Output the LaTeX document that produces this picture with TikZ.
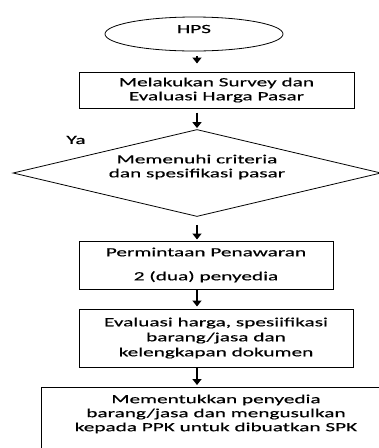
\documentclass[tikz,border=0pt]{standalone}
\usepackage{fontspec}
\setmainfont{Carlito}[FakeStretch=1.7, FakeBold=0.4]
\usetikzlibrary{shapes.geometric,arrows.meta}

\begin{document}
\begin{tikzpicture}[x=1pt, y=-1pt,
    font=\fontsize{12.5}{14}\selectfont,
    box/.style={draw, line width=1pt, align=center, inner sep=0pt},
    decision/.style={draw, diamond, aspect=4.2, line width=0.8pt, inner sep=0pt},
    flow/.style={-{Triangle[width=9pt,length=6pt]}, line width=1.6pt}]
    \useasboundingbox (0,0) rectangle (379,448);
    \clip (0,0) rectangle (379,448);

    % Start
    \node[draw, ellipse, line width=0.8pt, minimum width=178pt, minimum height=34pt,
          inner sep=0pt, text depth=10pt] (hps) at (194,34) {HPS};

    % Survey
    \node[box, minimum width=275pt, minimum height=36pt] (survey) at (216.5,90)
        {Melakukan Survey dan\\Evaluasi Harga Pasar};

    % Decision
    \node[decision, minimum width=368pt, minimum height=87pt,
          label={[align=center, yshift=6pt]center:Memenuhi criteria\\dan spesifikasi pasar}]
          (crit) at (197,173) {};
    \node (ya) at (76,140) {Ya};

    % Offers
    \node[box, minimum width=254pt, minimum height=48pt] (penawaran) at (206,265)
        {Permintaan Penawaran\\[10pt]2 (dua) penyedia};

    \node[box, minimum width=274pt, minimum height=58pt] (evaluasi) at (216,338)
        {Evaluasi harga, spesiifikasi\\[1pt]barang/jasa dan\\[1pt]kelengkapan dokumen};

    % Result
    \node[box, anchor=north, minimum width=350pt, minimum height=85pt,
          label={[align=center, anchor=north, yshift=-4pt]north:Mementukkan penyedia\\barang/jasa dan mengusulkan\\kepada PPK untuk dibuatkan SPK}]
          (usulan) at (216,387) {};

    % Arrows
    \coordinate (spine) at (197,0);
    \draw[flow, shorten <=5pt, shorten >=8pt] (spine |- hps.south) -- (spine |- survey.north);
    \draw[flow, shorten <=4pt, shorten >=1pt] (spine |- survey.south) -- (spine |- crit.north);
    \draw[flow, shorten <=8pt, shorten >=1pt] (spine |- crit.south) -- (spine |- penawaran.north);
    \draw[flow, shorten >=2pt] (spine |- penawaran.south) -- (spine |- evaluasi.north);
    \draw[flow, shorten >=2pt] (spine |- evaluasi.south) -- (spine |- usulan.north);
\end{tikzpicture}
\end{document}
